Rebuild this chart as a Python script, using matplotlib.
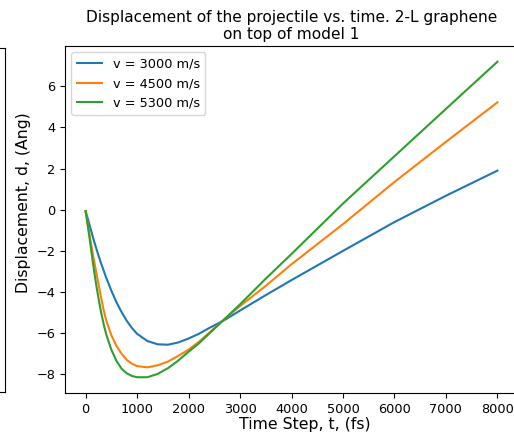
import numpy as np
import matplotlib
matplotlib.use('Agg')
import matplotlib.pyplot as plt

# время (fs) и смещение (Ang)
t = [0, 50, 100, 150, 200, 250, 300, 350, 400, 500, 600, 700, 800, 900,
     1000, 1200, 1400, 1600, 1800, 2000, 2200, 2400, 2700, 3000, 3500,
     4000, 5000, 6000, 7000, 8000]

d_3000 = [-0.07, -0.5, -0.95, -1.4, -1.82, -2.22, -2.6, -2.95, -3.3, -3.93,
          -4.5, -4.98, -5.4, -5.75, -6.03, -6.38, -6.54, -6.56, -6.45, -6.26,
          -6.03, -5.75, -5.36, -4.9, -4.15, -3.42, -2.0, -0.6, 0.68, 1.9]
d_4500 = [-0.07, -0.8, -1.57, -2.28, -2.95, -3.6, -4.25, -4.87, -5.38, -6.1,
          -6.62, -7.0, -7.3, -7.48, -7.6, -7.66, -7.56, -7.38, -7.1, -6.8,
          -6.42, -5.98, -5.32, -4.68, -3.7, -2.65, -0.7, 1.35, 3.3, 5.22]
d_5300 = [-0.07, -0.9, -1.8, -2.7, -3.55, -4.3, -4.97, -5.55, -6.05, -6.8,
          -7.35, -7.73, -7.95, -8.08, -8.14, -8.14, -7.98, -7.7, -7.33, -6.9,
          -6.5, -6.02, -5.31, -4.6, -3.35, -2.15, 0.3, 2.6, 4.9, 7.19]

labels = ['v = 3000 m/s', 'v = 4500 m/s', 'v = 5300 m/s']

W, H = 514, 437
fig = plt.figure(figsize=(W / 100, H / 100), dpi=100)

# кусок соседнего графика слева
ax0 = fig.add_axes([-0.5, (H - 392) / H, 0.5 + 5 / W, (392 - 48) / H])
ax0.set_xticks([])
ax0.set_yticks([])

ax = fig.add_axes([65 / W, (H - 393) / H, (518 - 65) / W, (393 - 46) / H])
for d, lab in zip([d_3000, d_4500, d_5300], labels):
    ax.plot(t, d, label=lab)

ax.set_title('Displacement of the projectile vs. time. 2-L graphene\non top of model 1',
             fontsize=11.1, pad=5)
ax.set_xlabel('Time Step, t, (fs)', fontsize=11.3)
ax.set_ylabel('Displacement, d, (Ang)', fontsize=11.3)
ax.xaxis.set_label_coords(0.53, -0.07)
ax.yaxis.set_label_coords(-0.074, 0.55)
ax.set_xticks(range(0, 8001, 1000))
ax.set_yticks(range(-8, 7, 2))
ax.tick_params(labelsize=9.3)
ax.legend(loc='upper left', fontsize=9.3)

fig.savefig('out.png', dpi=100)
